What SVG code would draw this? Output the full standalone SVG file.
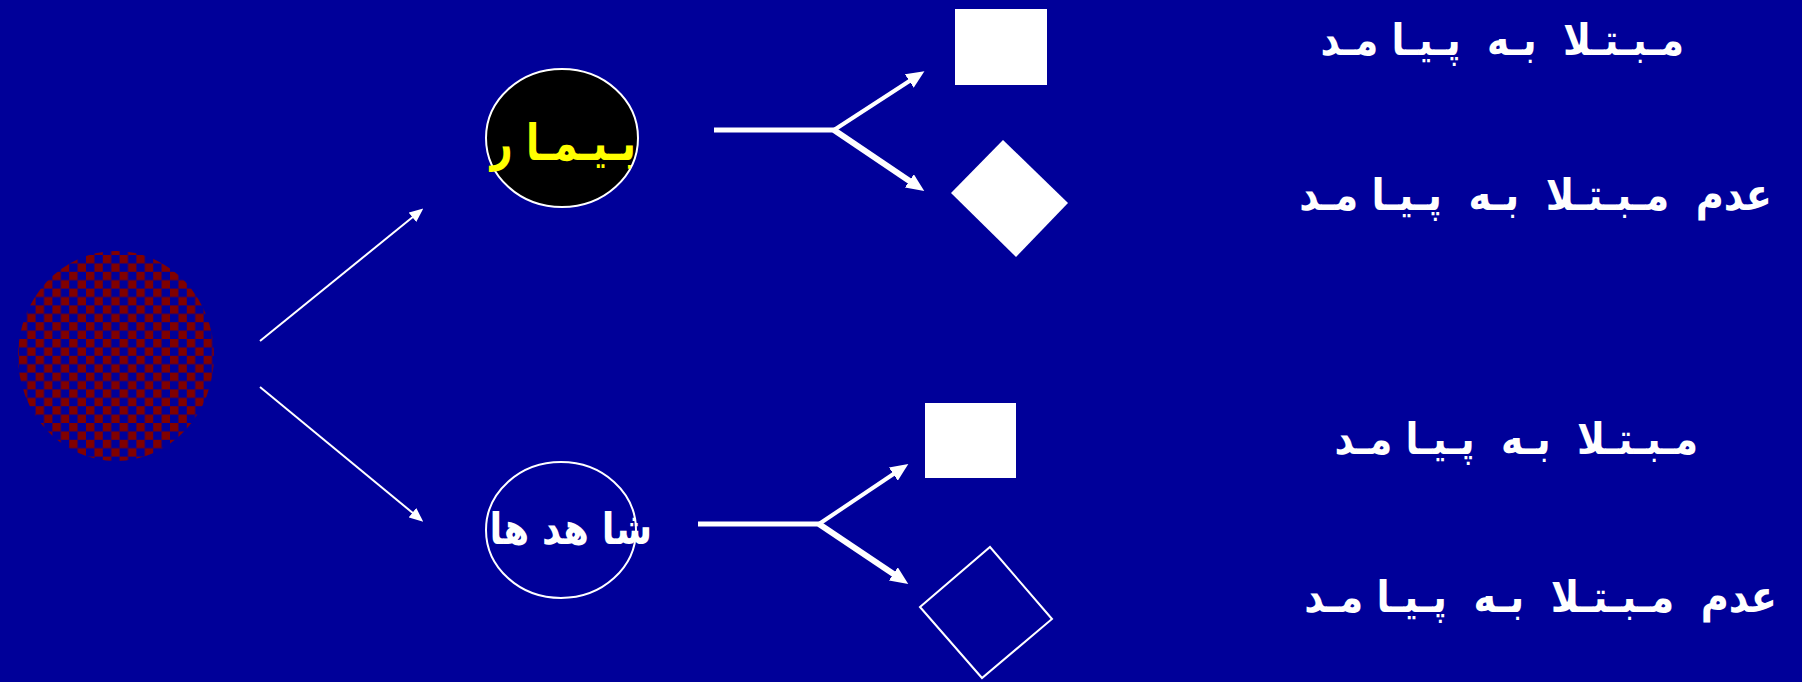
<svg xmlns="http://www.w3.org/2000/svg" width="1802" height="682" viewBox="0 0 1802 682">
  <style>
    .fa { font-family: "DejaVu Sans", "Noto Sans", sans-serif; font-weight: bold; white-space: pre; }
    .lbl { fill: #ffffff; font-size: 44px; }
    .wire { stroke: #ffffff; fill: none; }
  </style>
  <defs>
    <pattern id="checker" patternUnits="userSpaceOnUse" width="16.8" height="16.8" x="2" y="3">
      <rect width="16.8" height="16.8" fill="#000099"/>
      <rect width="8.4" height="8.4" fill="#800000"/>
      <rect x="8.4" y="8.4" width="8.4" height="8.4" fill="#800000"/>
    </pattern>
    <marker id="headS" markerUnits="userSpaceOnUse" markerWidth="14" markerHeight="12" refX="2" refY="6" orient="auto">
      <path d="M0,0 L14,6 L0,12 Z" fill="#ffffff"/>
    </marker>
    <marker id="headL" markerUnits="userSpaceOnUse" markerWidth="18" markerHeight="16" refX="2" refY="8" orient="auto">
      <path d="M0,0 L18,8 L0,16 Z" fill="#ffffff"/>
    </marker>
  </defs>

  <rect width="1802" height="682" fill="#000099"/>

  <!-- population -->
  <g id="population">
    <ellipse cx="116" cy="356" rx="98" ry="105" fill="url(#checker)"/>
  </g>

  <!-- exposed group -->
  <g id="exposed">
    <ellipse cx="562" cy="138" rx="76" ry="69" fill="#000000" stroke="#ffffff" stroke-width="2"/>
    <text class="fa" transform="translate(636,160) scale(0.77,1)" font-size="50" fill="#ffff00" direction="rtl" text-anchor="start">بـيـمـا ر</text>
  </g>

  <!-- control group -->
  <g id="controls">
    <ellipse cx="561" cy="530" rx="75" ry="68" fill="none" stroke="#ffffff" stroke-width="2"/>
    <text class="fa" transform="translate(652,544) scale(0.84,1)" font-size="44" fill="#ffffff" direction="rtl" text-anchor="start">شا هد ها</text>
  </g>

  <!-- outcome shapes -->
  <g id="exposed-outcome">
    <rect x="955" y="9" width="92" height="76" fill="#ffffff"/>
  </g>
  <g id="exposed-no-outcome">
    <polygon points="951,193 1003,140 1068,203 1016,257" fill="#ffffff"/>
  </g>
  <g id="control-outcome">
    <rect x="925" y="403" width="91" height="75" fill="#ffffff"/>
  </g>
  <g id="control-no-outcome">
    <polygon points="920,607 990,547 1052,619 982,678" fill="none" stroke="#ffffff" stroke-width="2"/>
  </g>

  <!-- outcome labels -->
  <g id="label-exposed-outcome">
    <text class="fa lbl" transform="translate(1684,55) scale(0.855,1)" direction="rtl" text-anchor="start">مـبـتـلا  بـه  پـيـا مـد</text>
  </g>
  <g id="label-exposed-no-outcome">
    <text class="fa lbl" transform="translate(1772,210) scale(0.87,1)" direction="rtl" text-anchor="start">عدم  مـبـتـلا  بـه  پـيـا مـد</text>
  </g>
  <g id="label-control-outcome">
    <text class="fa lbl" transform="translate(1698,454) scale(0.855,1)" direction="rtl" text-anchor="start">مـبـتـلا  بـه  پـيـا مـد</text>
  </g>
  <g id="label-control-no-outcome">
    <text class="fa lbl" transform="translate(1777,612) scale(0.87,1)" direction="rtl" text-anchor="start">عدم  مـبـتـلا  بـه  پـيـا مـد</text>
  </g>

  <!-- connectors -->
  <g id="connectors" class="wire">
    <line x1="260" y1="341" x2="414" y2="216" stroke-width="2" marker-end="url(#headS)"/>
    <line x1="260" y1="387" x2="414" y2="514" stroke-width="2" marker-end="url(#headS)"/>

    <line x1="714" y1="130" x2="836" y2="130" stroke-width="5"/>
    <line x1="834" y1="130" x2="911" y2="80" stroke-width="4" marker-end="url(#headL)"/>
    <line x1="834" y1="130" x2="911" y2="182" stroke-width="6" marker-end="url(#headL)"/>

    <line x1="698" y1="524" x2="821" y2="524" stroke-width="5"/>
    <line x1="819" y1="524" x2="895" y2="473" stroke-width="4" marker-end="url(#headL)"/>
    <line x1="819" y1="524" x2="895" y2="575" stroke-width="6" marker-end="url(#headL)"/>
  </g>
</svg>
